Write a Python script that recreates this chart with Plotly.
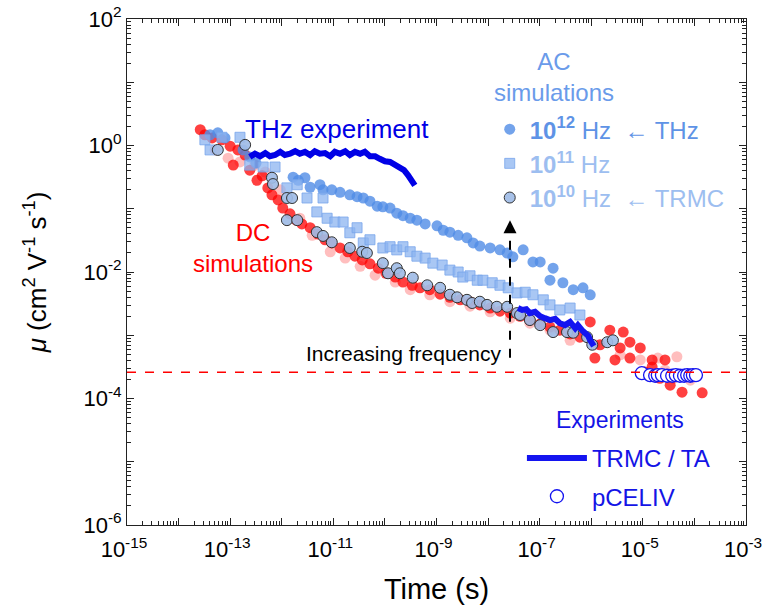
import numpy as np
import plotly.graph_objects as go

# ---------------- data (log10 values) ----------------
dc_log_t = [-13.58, -13.49, -13.35, -13.16, -13.00, -12.85, -12.71, -12.94, -12.62, -12.48,
            -12.38, -12.27, -12.19, -12.07, -11.98, -11.84, -11.72, -11.61, -11.45, -11.30,
            -11.16, -11.03, -10.87, -10.72, -10.58, -10.44, -10.29, -10.13, -9.98, -9.80,
            -9.65, -9.47, -9.32, -9.13, -8.93, -8.74, -8.54, -8.35, -8.16, -7.96,
            -7.77, -7.57, -7.38, -7.19, -6.99, -6.80, -6.61, -6.41, -6.22, -6.02,
            -5.93, -5.64, -5.54, -5.38, -5.25, -5.25, -5.05, -4.82, -4.82, -4.57,
            -4.47, -4.24, -3.85, -5.44, -4.96, -4.67, -5.83]
dc_log_mu = [0.25, 0.17, 0.12, 0.09, -0.01, -0.07, -0.15, -0.31, -0.39, -0.55,
             -0.48, -0.67, -0.78, -0.86, -0.99, -1.08, -1.18, -1.24, -1.30, -1.40,
             -1.49, -1.54, -1.62, -1.68, -1.75, -1.81, -1.87, -1.94, -2.02, -2.08,
             -2.16, -2.21, -2.25, -2.28, -2.35, -2.40, -2.44, -2.47, -2.52, -2.57,
             -2.62, -2.65, -2.70, -2.76, -2.82, -2.87, -2.92, -2.98, -3.03, -2.79,
             -3.36, -2.92, -3.39, -2.95, -3.11, -3.36, -3.20, -3.39, -3.50, -3.39,
             -3.79, -3.90, -3.91, -3.20, -3.58, -3.68, -3.15]

dc2_log_t = [-13.29, -13.04, -12.81, -12.52, -12.32, -12.03, -11.65, -11.41, -11.06, -10.77,
             -10.48, -10.19, -9.80, -9.51, -9.13, -8.74, -8.35, -7.96, -7.57, -7.19,
             -6.80, -6.41, -5.93, -5.44, -5.05, -4.71, -4.34, -4.57, -4.41, -4.08]
dc2_log_mu = [-0.07, -0.20, -0.26, -0.31, -0.42, -0.70, -1.15, -1.42, -1.68, -1.78,
              -1.91, -2.05, -2.16, -2.28, -2.36, -2.47, -2.54, -2.63, -2.73, -2.81,
              -2.92, -3.08, -3.15, -3.31, -3.39, -3.36, -3.34, -3.55, -3.68, -3.71]

ac12_log_t = [-13.39, -13.24, -13.10, -12.75, -12.62, -12.50, -11.78, -11.68, -11.55, -11.45,
              -11.26, -11.20, -11.03, -10.87, -10.68, -10.54, -10.42, -10.29, -10.15, -10.04,
              -9.90, -9.77, -9.65, -9.51, -9.38, -9.22, -8.99, -8.87, -8.74, -8.58,
              -8.41, -8.29, -8.16, -7.96, -7.77, -7.63, -7.52, -7.32, -7.13, -6.99,
              -6.74, -6.80, -6.55, -6.35, -6.16, -6.02]
ac12_log_mu = [0.17, 0.20, 0.12, -0.07, -0.18, -0.28, -0.50, -0.55, -0.51, -0.66,
               -0.62, -0.70, -0.70, -0.74, -0.78, -0.81, -0.83, -0.88, -0.96, -0.97,
               -0.99, -1.07, -1.11, -1.15, -1.18, -1.24, -1.27, -1.34, -1.37, -1.42,
               -1.46, -1.54, -1.59, -1.62, -1.65, -1.70, -1.76, -1.65, -1.84, -1.84,
               -1.94, -2.13, -2.17, -2.28, -2.25, -2.36]

ac11_log_t = [-13.49, -13.39, -13.16, -12.81, -12.62, -12.36, -12.13, -11.90, -11.70, -11.51,
              -11.32, -11.20, -11.12, -10.97, -10.81, -10.68, -10.54, -10.42, -10.29, -10.04,
              -9.90, -9.77, -9.65, -9.51, -9.38, -9.22, -9.07, -8.89, -8.74, -8.58,
              -8.49, -8.35, -8.21, -8.10, -7.92, -7.77, -7.61, -7.44, -7.28, -7.13,
              -6.93, -6.80, -6.61, -6.41, -6.22]
ac11_log_mu = [0.09, -0.07, 0.13, 0.13, -0.31, -0.34, -0.34, -0.67, -0.62, -0.83,
               -1.05, -0.83, -1.15, -1.21, -1.21, -1.38, -1.30, -1.54, -1.49, -1.62,
               -1.60, -1.65, -1.60, -1.68, -1.75, -1.78, -1.86, -1.89, -1.97, -2.00,
               -2.08, -2.06, -2.13, -2.13, -2.17, -2.21, -2.25, -2.33, -2.32, -2.36,
               -2.44, -2.52, -2.60, -2.57, -2.68]

ac10_log_t = [-13.24, -12.71, -12.19, -12.17, -11.90, -11.80, -11.90, -11.70, -11.32, -11.20,
              -11.03, -10.68, -10.44, -10.35, -10.04, -9.94, -9.77, -9.71, -9.46, -9.18,
              -8.93, -8.74, -8.60, -8.41, -8.31, -8.16, -8.02, -7.83, -7.63, -7.44,
              -7.38, -7.19, -6.99, -6.74, -6.47, -6.35, -6.08, -5.98, -5.69, -5.58]
ac10_log_mu = [-0.07, 0.01, -0.51, -0.61, -0.83, -0.83, -1.18, -1.18, -1.37, -1.43,
               -1.53, -1.62, -1.68, -1.70, -1.86, -2.02, -1.94, -2.02, -2.09, -2.21,
               -2.25, -2.36, -2.40, -2.44, -2.49, -2.47, -2.52, -2.55, -2.55, -2.65,
               -2.68, -2.76, -2.84, -2.95, -2.95, -2.96, -3.03, -3.15, -3.11, -3.08]

thz_log_t = [-12.62, -12.52, -12.42, -12.32, -12.23, -12.13, -12.03, -11.94, -11.84, -11.74,
             -11.65, -11.55, -11.45, -11.36, -11.26, -11.16, -11.06, -10.97, -10.87, -10.77,
             -10.68, -10.58, -10.48, -10.39, -10.29, -10.19, -10.10, -10.00, -9.90, -9.80,
             -9.71, -9.63, -9.55, -9.49, -9.46, -9.42]
thz_log_mu = [-0.18, -0.13, -0.17, -0.12, -0.17, -0.15, -0.10, -0.15, -0.13, -0.09,
              -0.13, -0.10, -0.15, -0.09, -0.13, -0.12, -0.17, -0.10, -0.13, -0.09,
              -0.15, -0.10, -0.13, -0.10, -0.17, -0.17, -0.21, -0.25, -0.26, -0.31,
              -0.34, -0.39, -0.47, -0.53, -0.58, -0.63]

trmc_log_t = [-7.42, -7.34, -7.26, -7.19, -7.09, -6.99, -6.90, -6.80, -6.70, -6.61,
              -6.51, -6.41, -6.31, -6.26, -6.18, -6.12, -6.06, -6.02, -5.98, -5.95]
trmc_log_mu = [-2.57, -2.60, -2.59, -2.65, -2.63, -2.70, -2.73, -2.76, -2.74, -2.81,
               -2.84, -2.79, -2.89, -2.84, -2.92, -2.96, -3.01, -3.08, -3.12, -3.17]

pceliv_log_t = [-5.02, -4.86, -4.76, -4.71, -4.63, -4.53, -4.43, -4.36, -4.28, -4.20,
                -4.14, -4.08, -4.03, -3.97]
pceliv_log_mu = [-3.60, -3.63, -3.64, -3.63, -3.63, -3.64, -3.64, -3.63, -3.64, -3.64,
                 -3.63, -3.64, -3.63, -3.63]

pceliv_level = 2.6e-4                # red dashed reference line
arrow_t = 2.66e-8                    # "increasing frequency" arrow
arrow_mu = [4.4e-4, 6.6e-2]

x_exp = list(range(-15, -2))         # decades on the time axis
y_exp = list(range(-6, 3))           # decades on the mobility axis

# ---------------- figure ----------------
FONT = "Liberation Sans, Arial, sans-serif"
p = lambda a: 10 ** np.array(a, dtype=float)

fig = go.Figure()

fig.add_trace(go.Scatter(x=p(dc2_log_t), y=p(dc2_log_mu), mode="markers", showlegend=False,
                         marker=dict(size=11, color="rgba(255,40,40,0.30)", line=dict(width=0))))
fig.add_trace(go.Scatter(x=p(dc_log_t), y=p(dc_log_mu), mode="markers", showlegend=False,
                         marker=dict(size=11, color="rgba(255,0,0,0.75)", line=dict(width=0))))

fig.add_trace(go.Scatter(x=p(ac12_log_t), y=p(ac12_log_mu), mode="markers",
                         name="<span style='color:#5E93E6'><b>10<sup>12</sup></b> Hz  \u2190 THz</span>",
                         legend="legend", legendgroup="g12",
                         marker=dict(size=11, color="rgba(80,140,230,0.80)", line=dict(width=0))))
fig.add_trace(go.Scatter(x=p(ac11_log_t), y=p(ac11_log_mu), mode="markers",
                         name="<b>10<sup>11</sup></b> Hz", legend="legend", legendgroup="g11",
                         marker=dict(size=10, symbol="square", color="rgba(140,180,240,0.75)",
                                     line=dict(width=1, color="rgba(120,165,235,0.8)"))))
fig.add_trace(go.Scatter(x=p(ac10_log_t), y=p(ac10_log_mu), mode="markers",
                         name="<b>10<sup>10</sup></b> Hz  \u2190 TRMC", legend="legend", legendgroup="g10",
                         marker=dict(size=11, color="rgba(160,188,230,0.92)",
                                     line=dict(width=1, color="#333333"))))

fig.add_trace(go.Scatter(x=p(thz_log_t), y=p(thz_log_mu), mode="lines", showlegend=False,
                         line=dict(color="#0000E6", width=6)))
fig.add_trace(go.Scatter(x=p(trmc_log_t), y=p(trmc_log_mu), mode="lines",
                         name="TRMC / TA", legend="legend2", legendgroup="a",
                         line=dict(color="#1414F0", width=6)))
fig.add_trace(go.Scatter(x=p(pceliv_log_t), y=p(pceliv_log_mu), mode="markers",
                         name="pCELIV", legend="legend2", legendgroup="b",
                         marker=dict(size=13, color="white", line=dict(width=1.3, color="#1414F0"))))

fig.add_trace(go.Scatter(x=[10.0 ** x_exp[0], 10.0 ** x_exp[-1]], y=[pceliv_level, pceliv_level],
                         mode="lines", showlegend=False, cliponaxis=True,
                         line=dict(color="#FF0000", width=1.5, dash="dash")))
fig.add_trace(go.Scatter(x=[arrow_t, arrow_t], y=arrow_mu, mode="lines", showlegend=False,
                         line=dict(color="black", width=2, dash="dash")))

fig.add_annotation(x=np.log10(arrow_t), y=np.log10(arrow_mu[1]), xref="x", yref="y",
                   ax=0, ay=14, axref="pixel", ayref="pixel", text="", showarrow=True,
                   arrowhead=2, arrowsize=1.3, arrowwidth=2, arrowcolor="black")

def label(text, x, y, color, size, xanchor="center"):
    fig.add_annotation(x=x, y=y, xref="paper", yref="paper", text=text, showarrow=False,
                       xanchor=xanchor, yanchor="middle", align="center",
                       font=dict(family=FONT, size=size, color=color))

label("THz experiment", 0.339, 0.783, "#0000E6", 26)
label("DC<br>simulations", 0.204, 0.547, "#FF0000", 24)
label("AC<br>simulations", 0.690, 0.885, "#6A9BEA", 24)
label("Increasing frequency", 0.607, 0.338, "black", 21, xanchor="right")
label("Experiments", 0.796, 0.2075, "#1414E6", 23)

minor_x = [k * 10.0 ** e for e in x_exp[:-1] for k in range(2, 10)]
minor_y = [k * 10.0 ** e for e in y_exp[:-1] for k in range(2, 10)]

axis_common = dict(type="log", showgrid=False, zeroline=False, showline=True, linecolor="#222",
                   linewidth=1, mirror="allticks", ticks="inside", ticklen=7, tickwidth=1,
                   tickcolor="#222", ticklabeloverflow="allow",
                   tickfont=dict(family=FONT, size=22, color="black"))

fig.update_xaxes(**axis_common, range=[x_exp[0], x_exp[-1]], tickmode="array",
                 tickvals=[10.0 ** e for e in x_exp],
                 ticktext=[f"10<sup>{e}</sup>" if e % 2 else "" for e in x_exp],
                 ticklabelshift=-3, ticklabelstandoff=5,
                 minor=dict(tickmode="array", tickvals=minor_x, ticks="inside", ticklen=4,
                            tickcolor="#222", showgrid=False),
                 title=dict(text="Time (s)", font=dict(family=FONT, size=29, color="black"), standoff=17))
fig.update_yaxes(**axis_common, range=[y_exp[0], y_exp[-1]], tickmode="array",
                 tickvals=[10.0 ** e for e in y_exp],
                 ticktext=[f"10<sup>{e}</sup>" if e % 2 == 0 else "" for e in y_exp],
                 minor=dict(tickmode="array", tickvals=minor_y, ticks="inside", ticklen=4,
                            tickcolor="#222", showgrid=False),
                 title=dict(text="<i>\u03bc</i> (cm<sup>2</sup> V<sup>-1</sup> s<sup>-1</sup>)",
                            font=dict(family=FONT, size=26, color="black"), standoff=29))

fig.update_layout(
    width=767, height=612, autosize=False,
    margin=dict(l=127, r=21, t=19, b=87, autoexpand=False),
    paper_bgcolor="white", plot_bgcolor="white",
    font=dict(family=FONT),
    legend=dict(x=0.586, y=0.826, xanchor="left", yanchor="top", bgcolor="rgba(0,0,0,0)",
                font=dict(family=FONT, size=24, color="#9DBEF0"), itemwidth=30,
                tracegroupgap=0),
    legend2=dict(x=0.638, y=0.176, xanchor="left", yanchor="top", bgcolor="rgba(0,0,0,0)",
                 font=dict(family=FONT, size=24, color="#1414E6"), itemwidth=60,
                 tracegroupgap=4),
)

# remove the page's default 8px body margin so the figure sits at the window origin
fig.write_html("out.html", config={"displayModeBar": False},
               post_script="document.body.style.margin='0';")
